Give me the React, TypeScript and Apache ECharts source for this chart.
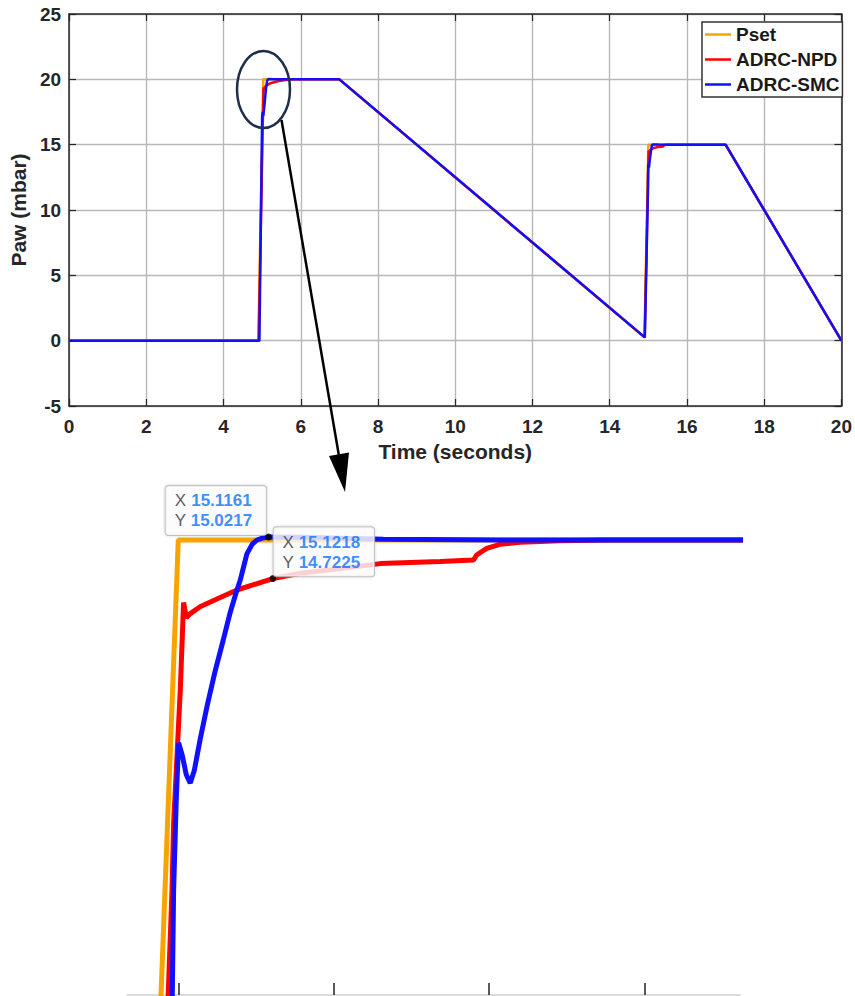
import React, { useEffect, useRef } from "react";
import * as echarts from "echarts";

// Airway pressure responses: [time (s), pressure (mbar)]
const psetPoints: number[][] = [
  [0, 0], [4.9, 0], [5.03, 20], [7, 20], [14.9, 0.25], [15.0, 15], [17, 15], [20, 0],
];

const npdPoints: number[][] = [
  [0, 0], [4.91, 0], [5.035, 19.4], [5.045, 19.25], [5.06, 19.35], [5.1, 19.5], [5.2, 19.68],
  [5.4, 19.85], [5.6, 19.95], [5.8, 20], [7, 20], [14.905, 0.25],
  [14.987, 11.72], [14.9919, 12.48], [14.994, 12.96], [14.9983, 13.44], [15.0026, 13.92],
  [15.0068, 14.55], [15.0085, 14.5], [15.0103, 14.44], [15.0154, 14.47], [15.028, 14.52],
  [15.0476, 14.57], [15.0755, 14.64], [15.1218, 14.7225], [15.157, 14.76], [15.195, 14.785],
  [15.26, 14.83], [15.337, 14.845], [15.38, 14.856], [15.384, 14.892], [15.397, 14.94],
  [15.414, 14.969], [15.44, 14.983], [15.466, 14.99], [15.491, 14.995], [15.55, 15],
  [17, 15], [20, 0],
];

const smcPoints: number[][] = [
  [0, 0], [4.93, 0], [5.0, 17.2], [5.015, 17.5], [5.03, 17.2], [5.06, 18.0], [5.1, 19.3],
  [5.13, 19.9], [5.16, 20.03], [5.3, 20], [7, 20], [14.91, 0.25],
  [14.9923, 11.72], [14.994, 12.48], [14.9974, 13.13], [15.0004, 13.54], [15.0051, 13.45],
  [15.0103, 13.31], [15.0154, 13.25], [15.0206, 13.34], [15.028, 13.56], [15.0369, 13.8],
  [15.0476, 14.06], [15.0579, 14.28], [15.0669, 14.48], [15.0755, 14.64], [15.0797, 14.71],
  [15.0883, 14.9], [15.0952, 14.97], [15.1012, 15.0], [15.108, 15.014], [15.1161, 15.0217],
  [15.157, 15.02], [15.264, 15.005], [15.414, 15.0], [17, 15], [20, 0],
];

// Data cursors shown on the zoomed view
const cursorPoints: number[][] = [
  [15.1161, 15.0217],
  [15.1218, 14.7225],
];

const seriesNames = ["Pset", "ADRC-NPD", "ADRC-SMC"];
const seriesColors = ["#f7a400", "#ff0000", "#1010ff"];
const zoomTicks = [15.0, 15.2, 15.4, 15.6];

const FONT = '"Liberation Sans", Arial, Helvetica, sans-serif';
const AX = "#262626";

export default function App() {
  const ref = useRef<HTMLDivElement>(null);

  useEffect(() => {
    if (!ref.current) return;
    const chart = echarts.init(ref.current, undefined, { renderer: "svg" });

    const allData = [psetPoints, npdPoints, smcPoints];

    const mainSeries = allData.map((d, i) => ({
      type: "line",
      name: seriesNames[i],
      xAxisIndex: 0,
      yAxisIndex: 0,
      data: d,
      showSymbol: false,
      clip: true,
      lineStyle: { color: seriesColors[i], width: 2.5 },
      itemStyle: { color: seriesColors[i] },
      z: 3 + i,
    }));

    const zoomSeries = allData.map((d, i) => ({
      type: "line",
      name: seriesNames[i],
      xAxisIndex: 2,
      yAxisIndex: 2,
      data: d,
      showSymbol: false,
      clip: true,
      lineStyle: { color: seriesColors[i], width: 5 },
      itemStyle: { color: seriesColors[i] },
      z: 3 + i,
    }));

    const labelBox = {
      show: true,
      formatter: (p: any) =>
        `{k|X} {v|${p.value[0].toFixed(4)}}\n{k|Y} {v|${p.value[1].toFixed(4)}}`,
      fontSize: 17,
      fontFamily: FONT,
      lineHeight: 20,
      backgroundColor: "#ffffff",
      borderColor: "#b4b4b4",
      borderWidth: 1,
      borderRadius: 3,
      padding: [5, 14, 4, 9],
      shadowBlur: 3,
      shadowColor: "rgba(0,0,0,0.18)",
      rich: {
        k: { color: "#333333", fontSize: 17, fontFamily: FONT, lineHeight: 20, align: "left" },
        v: { color: "#0b72ff", fontSize: 17, fontWeight: "bold", fontFamily: FONT, lineHeight: 20, align: "left" },
      },
    };

    const cursorSeries = {
      type: "scatter",
      name: "cursor",
      xAxisIndex: 2,
      yAxisIndex: 2,
      symbol: "circle",
      symbolSize: 7,
      itemStyle: { color: "#000000" },
      z: 10,
      data: [
        {
          value: cursorPoints[0],
          label: { ...labelBox, position: [1.2, 1.5], align: "right", verticalAlign: "bottom" },
        },
        {
          value: cursorPoints[1],
          label: { ...labelBox, position: [4.2, 1.2], align: "left", verticalAlign: "bottom" },
        },
      ],
    };

    const tickLabel = { fontFamily: FONT, fontWeight: "bold", fontSize: 19, color: AX };

    const option: any = {
      animation: false,
      backgroundColor: "#ffffff",
      grid: [
        { left: 68, top: 14, width: 777, height: 392, containLabel: false },
        { left: 127, top: 480, width: 613, height: 515, containLabel: false },
      ],
      legend: {
        data: seriesNames,
        orient: "vertical",
        left: 702,
        top: 22,
        icon: "rect",
        itemWidth: 26,
        itemHeight: 2.5,
        itemGap: 6,
        padding: [3, 3, 3, 3],
        borderColor: "#333333",
        borderWidth: 1.5,
        backgroundColor: "#ffffff",
        textStyle: { fontFamily: FONT, fontWeight: "bold", fontSize: 19, lineHeight: 19, color: "#1a1a1a" },
      },
      xAxis: [
        {
          gridIndex: 0,
          type: "value",
          min: 0,
          max: 20,
          interval: 2,
          position: "bottom",
          name: "Time (seconds)",
          nameLocation: "middle",
          nameGap: 35,
          nameTextStyle: { fontFamily: FONT, fontWeight: "bold", fontSize: 21, color: AX },
          axisLine: { show: true, onZero: false, lineStyle: { color: AX, width: 1.5 } },
          axisTick: { show: true, inside: true, length: 7, lineStyle: { color: AX, width: 1.2 } },
          axisLabel: { ...tickLabel, margin: 11 },
          splitLine: { show: true, lineStyle: { color: "#b8b8b8", width: 1.4 } },
        },
        {
          gridIndex: 0,
          type: "value",
          min: 0,
          max: 20,
          interval: 2,
          position: "top",
          axisLine: { show: true, onZero: false, lineStyle: { color: AX, width: 1.5 } },
          axisTick: { show: true, inside: true, length: 7, lineStyle: { color: AX, width: 1.2 } },
          axisLabel: { show: false },
          splitLine: { show: false },
        },
        {
          gridIndex: 1,
          type: "value",
          min: 14.934,
          max: 15.723,
          position: "bottom",
          axisLine: { show: true, onZero: false, lineStyle: { color: "#cfcfcf", width: 1.5 } },
          axisTick: {
            show: true,
            inside: true,
            length: 12,
            customValues: zoomTicks,
            lineStyle: { color: "#222222", width: 1.5 },
          },
          axisLabel: { show: false },
          splitLine: { show: false },
        },
      ],
      yAxis: [
        {
          gridIndex: 0,
          type: "value",
          min: -5,
          max: 25,
          interval: 5,
          position: "left",
          name: "Paw (mbar)",
          nameLocation: "middle",
          nameGap: 36,
          nameTextStyle: { fontFamily: FONT, fontWeight: "bold", fontSize: 21, color: AX },
          axisLine: { show: true, onZero: false, lineStyle: { color: AX, width: 1.5 } },
          axisTick: { show: true, inside: true, length: 7, lineStyle: { color: AX, width: 1.2 } },
          axisLabel: { ...tickLabel, margin: 8 },
          splitLine: { show: true, lineStyle: { color: "#b8b8b8", width: 1.4 } },
        },
        {
          gridIndex: 0,
          type: "value",
          min: -5,
          max: 25,
          interval: 5,
          position: "right",
          axisLine: { show: true, onZero: false, lineStyle: { color: AX, width: 1.5 } },
          axisTick: { show: true, inside: true, length: 7, lineStyle: { color: AX, width: 1.2 } },
          axisLabel: { show: false },
          splitLine: { show: false },
        },
        {
          gridIndex: 1,
          type: "value",
          min: 11.724,
          max: 15.432,
          show: false,
        },
      ],
      series: [...mainSeries, ...zoomSeries, cursorSeries],
      graphic: [
        {
          type: "ellipse",
          shape: { cx: 263.5, cy: 89.5, rx: 26.5, ry: 38.5 },
          style: { fill: "none", stroke: "#1f2f4a", lineWidth: 2.5 },
          z: 20,
        },
        {
          type: "line",
          shape: { x1: 281.5, y1: 120, x2: 339, y2: 456 },
          style: { stroke: "#000000", lineWidth: 2.5 },
          z: 20,
        },
        {
          type: "polygon",
          shape: { points: [[345, 492], [349, 452.5], [329, 456]] },
          style: { fill: "#000000" },
          z: 20,
        },
      ],
    };

    chart.setOption(option);
    return () => chart.dispose();
  }, []);

  return (
    <div
      ref={ref}
      style={{ position: "fixed", left: 0, top: 0, width: 855, height: 996, background: "#fff" }}
    />
  );
}
